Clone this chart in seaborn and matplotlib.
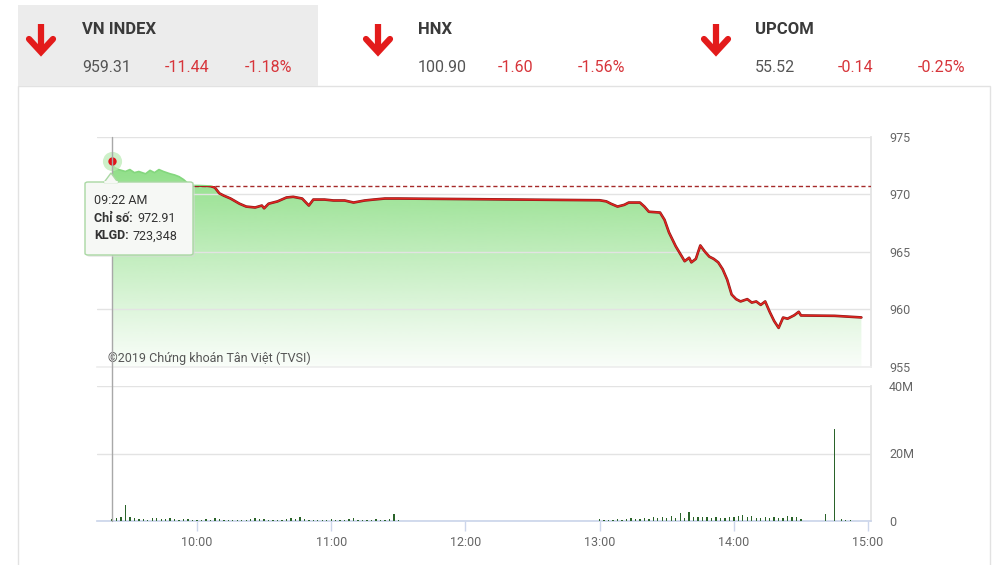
import numpy as np
import pandas as pd
import matplotlib
matplotlib.use("Agg")
import matplotlib.pyplot as plt
import seaborn as sns
import matplotlib.patheffects as pe
from matplotlib.patches import Rectangle, FancyBboxPatch, Polygon
from matplotlib.lines import Line2D
from matplotlib.transforms import blended_transform_factory

# ---------------- data ----------------
index_names = ["VN INDEX", "HNX", "UPCOM"]
index_values = ["959.31", "100.90", "55.52"]
index_changes = ["-11.44", "-1.60", "-0.14"]
index_pcts = ["-1.18%", "-1.56%", "-0.25%"]

reference_price = 970.75

price_times = ["09:22", "09:23", "09:25", "09:28", "09:30", "09:32", "09:34", "09:37", "09:39",
               "09:41", "09:43", "09:45", "09:48", "09:50", "09:52", "09:54", "09:57",
               "10:01", "10:06", "10:08", "10:10", "10:12", "10:15", "10:19", "10:22",
               "10:26", "10:29", "10:30", "10:32", "10:36", "10:40", "10:43", "10:47",
               "10:50", "10:52", "10:57", "11:01", "11:06", "11:10", "11:15", "11:19",
               "11:24", "11:30", "13:00", "13:03", "13:05", "13:08", "13:11", "13:13",
               "13:18", "13:20", "13:22", "13:27", "13:29", "13:31", "13:34", "13:38",
               "13:40", "13:41", "13:43", "13:45", "13:47", "13:49", "13:51", "13:53",
               "13:55", "13:57", "13:59", "14:01", "14:03", "14:06", "14:08", "14:10",
               "14:12", "14:14", "14:16", "14:18", "14:20", "14:22", "14:24", "14:27",
               "14:29", "14:30", "14:45", "14:57"]
price_values = [972.91, 972.35, 972.17, 972.00, 972.17, 971.90, 972.00, 971.80, 972.10,
                971.90, 972.17, 972.00, 971.80, 971.70, 971.55, 971.30, 970.78,
                970.78, 970.74, 970.60, 970.10, 969.90, 969.65, 969.20, 968.95,
                968.87, 969.04, 968.80, 969.20, 969.40, 969.74, 969.80, 969.65,
                969.04, 969.56, 969.56, 969.48, 969.48, 969.30, 969.48, 969.56,
                969.65, 969.65, 969.50, 969.40, 969.20, 968.95, 969.10, 969.30,
                969.30, 968.95, 968.50, 968.43, 967.80, 966.70, 965.50, 964.20,
                964.50, 964.10, 964.40, 965.57, 965.04, 964.60, 964.40, 964.10,
                963.50, 962.60, 961.30, 960.90, 960.70, 960.90, 960.60, 960.70,
                960.40, 960.70, 959.80, 959.00, 958.40, 959.30, 959.20, 959.50,
                959.80, 959.48, 959.45, 959.31]

# traded volume (millions of shares), one bar every 2 minutes
vol_morning_start = "09:22"
vol_morning = [0.72, 0.9, 1.2, 4.7, 1.1, 0.8, 0.5, 0.6, 0.4, 0.9, 1.0, 0.6, 0.5, 0.8, 0.7,
               0.4, 0.6, 0.5, 0.3, 0.4, 0.3, 0.5, 0.4, 0.9, 0.6, 0.4, 0.3, 0.4, 0.3, 0.4,
               0.3, 0.6, 0.8, 0.5, 0.7, 0.4, 0.3, 0.3, 0.4, 0.5, 0.8, 0.6, 1.1, 0.5, 0.4,
               0.3, 0.3, 0.4, 0.3, 0.5, 0.3, 0.4, 0.3, 0.5, 0.9, 0.4, 0.3, 0.4, 0.3, 0.5,
               0.3, 0.4, 0.5, 2.1, 0.4]
vol_afternoon_start = "13:00"
vol_afternoon = [0.5, 0.3, 0.4, 0.3, 0.5, 0.4, 0.6, 0.8, 0.5, 0.7, 0.9, 0.6, 1.3, 0.8, 1.1,
                 0.9, 1.4, 1.0, 2.3, 1.0, 2.8, 1.2, 1.1, 1.1, 1.3, 0.9, 1.2, 0.8, 0.9, 1.1,
                 1.3, 1.4, 1.8, 1.2, 1.5, 1.0, 0.9, 1.1, 0.8, 1.2, 0.9, 1.0, 1.4, 1.2, 1.3,
                 0.6]
vol_atc_times = ["14:41", "14:45", "14:48", "14:50", "14:52"]
vol_atc = [2.1, 27.2, 0.5, 0.4, 0.3]

hour_labels = ["10:00", "11:00", "12:00", "13:00", "14:00", "15:00"]
price_ticks = [955, 960, 965, 970, 975]
vol_ticks = [0, 20, 40]
vol_tick_labels = ["0", "20M", "40M"]

tooltip_time = "09:22 AM"
tooltip_index = "972.91"
tooltip_volume = "723,348"
watermark = "©2019 Chứng khoán Tân Việt (TVSI)"


def to_min(s):
    h, m = s.split(":")
    return int(h) * 60 + int(m)


df_p = pd.DataFrame({"t": [to_min(s) for s in price_times], "price": price_values})
t_m = to_min(vol_morning_start) + 2 * np.arange(len(vol_morning))
t_a = to_min(vol_afternoon_start) + 2 * np.arange(len(vol_afternoon))
df_v = pd.DataFrame({
    "t": np.concatenate([t_m, t_a, [to_min(s) for s in vol_atc_times]]),
    "vol": np.concatenate([vol_morning, vol_afternoon, vol_atc]),
})

# ---------------- figure ----------------
sns.set_theme(style="white")
FONT = ["Roboto", "DejaVu Sans"]
plt.rcParams["font.family"] = FONT

W, H = 1004, 565
fig = plt.figure(figsize=(W / 100, H / 100), dpi=100)
fig.patch.set_facecolor("white")


def fx(px):
    return px / W


def fy(py):
    return 1 - py / H


# container + header box (behind axes)
fig.add_artist(Rectangle((fx(18), fy(600)), fx(990) - fx(18), fy(86) - fy(600),
                         transform=fig.transFigure, facecolor="white", edgecolor="#e2e2e2",
                         lw=1, zorder=-10))
fig.add_artist(Rectangle((fx(18), fy(86)), fx(318) - fx(18), fy(5) - fy(86),
                         transform=fig.transFigure, facecolor="#ececec", edgecolor="none",
                         zorder=-9))

# header
name_x = [82, 418, 755]
val_x = [82, 418, 755]
chg_x = [165, 498, 838]
pct_x = [245, 578, 918]
arrow_x = [41, 378, 716]
for i in range(3):
    fig.text(fx(name_x[i]), fy(29), index_names[i], fontsize=12, fontweight="bold",
             color="#3a3a3a", va="center", ha="left")
    fig.text(fx(val_x[i]), fy(67), index_values[i], fontsize=11.5, color="#555555",
             va="center", ha="left")
    fig.text(fx(chg_x[i]), fy(67), index_changes[i], fontsize=11.5, color="#d7353b",
             va="center", ha="left")
    fig.text(fx(pct_x[i]), fy(67), index_pcts[i], fontsize=11.5, color="#d7353b",
             va="center", ha="left")
    ax0 = arrow_x[i]
    fig.add_artist(Line2D([fx(ax0), fx(ax0)], [fy(24), fy(50)], transform=fig.transFigure,
                          color="#e31b1b", lw=4.5, solid_capstyle="butt"))
    fig.add_artist(Line2D([fx(ax0 - 12), fx(ax0), fx(ax0 + 12)], [fy(39), fy(52), fy(39)],
                          transform=fig.transFigure, color="#e31b1b", lw=4.5,
                          solid_capstyle="round", solid_joinstyle="miter"))

XMIN, XMAX = 555.3, 901.3
ax_p = fig.add_axes([fx(97), fy(367), fx(871) - fx(97), fy(137) - fy(367)])
ax_v = fig.add_axes([fx(97), fy(521), fx(871) - fx(97), fy(386) - fy(521)])
for a in (ax_p, ax_v):
    a.set_facecolor("none")

# ---- price panel ----
poly = ax_p.fill_between(df_p["t"], df_p["price"], 955, color="none", lw=0)
n = 256
f = np.linspace(0, 1, n)
grad = np.zeros((n, 1, 4))
grad[:, 0, 0] = 105 / 255
grad[:, 0, 1] = 212 / 255
grad[:, 0, 2] = 95 / 255
grad[:, 0, 3] = 0.04 + 0.82 * f ** 1.1
im = ax_p.imshow(grad, extent=[XMIN, XMAX, 955, 975], origin="lower", aspect="auto",
                 zorder=1, interpolation="bilinear")
im.set_clip_path(poly.get_paths()[0], ax_p.transData)

sns.lineplot(data=df_p, x="t", y="price", ax=ax_p, color="#e3241f", lw=1.0, zorder=5)
red_line = ax_p.lines[-1]
red_line.set_path_effects([pe.Stroke(linewidth=1.9, foreground="#8a1c1c"), pe.Normal()])
red_line.set_clip_path(Rectangle((XMIN, 950), XMAX - XMIN, reference_price - 950,
                                 transform=ax_p.transData))
sns.lineplot(data=df_p, x="t", y="price", ax=ax_p, color="#84d77e", lw=1.2, zorder=5)
green_line = ax_p.lines[-1]
green_line.set_clip_path(Rectangle((XMIN, reference_price), XMAX - XMIN, 10,
                                   transform=ax_p.transData))

ax_p.axhline(reference_price, color="#a52a2a", lw=1, ls=(0, (3, 2)), zorder=4)

ax_p.set_xlim(XMIN, XMAX)
ax_p.set_ylim(955, 975)
ax_p.set_yticks(price_ticks)
ax_p.set_xticks([])
ax_p.yaxis.tick_right()
ax_p.tick_params(axis="y", length=0, pad=13, labelsize=9, labelcolor="#666666")
ax_p.grid(axis="y", color="#e3e3e3", lw=1)
ax_p.set_axisbelow("line")
ax_p.set_xlabel("")
ax_p.set_ylabel("")
for s in ("top", "left"):
    ax_p.spines[s].set_visible(False)
ax_p.spines["right"].set_color("#e3e3e3")
ax_p.spines["bottom"].set_color("#eeeeee")

ax_p.text(to_min("09:20"), 955.8, watermark, fontsize=9, color="#555555",
          ha="left", va="center", zorder=6)

# highlighted point
t0 = to_min("09:22")
ax_p.scatter([t0], [972.91], s=190, color="#b9eab2", alpha=0.7, zorder=6, lw=0)
ax_p.scatter([t0], [972.91], s=36, color="#e0141b", zorder=7, lw=0)

# ---- volume panel ----
ax_v.bar(df_v["t"], df_v["vol"], width=0.6, color="#2a632a", lw=0, zorder=3)
ax_v.set_xlim(XMIN, XMAX)
ax_v.set_ylim(0, 40)
ax_v.set_yticks(vol_ticks)
ax_v.set_yticklabels(vol_tick_labels)
ax_v.yaxis.tick_right()
ax_v.tick_params(axis="y", length=0, pad=13, labelsize=9, labelcolor="#666666")
ax_v.set_xticks([to_min(s) for s in hour_labels])
ax_v.set_xticklabels(hour_labels)
ax_v.tick_params(axis="x", length=7.5, width=1, color="#ccd6eb", labelsize=9,
                 labelcolor="#666666", pad=3, bottom=True)
ax_v.grid(axis="y", color="#e3e3e3", lw=1)
ax_v.set_axisbelow(True)
for s in ("top", "left"):
    ax_v.spines[s].set_visible(False)
ax_v.spines["right"].set_color("#e3e3e3")
ax_v.spines["bottom"].set_color("#ccd6eb")

# crosshair
tr = blended_transform_factory(ax_p.transData, fig.transFigure)
fig.add_artist(Line2D([t0, t0], [fy(137), fy(521)], transform=tr, color="#a8a8a8", lw=1,
                      zorder=2))

# tooltip
fig.add_artist(FancyBboxPatch((fx(87), fy(257)), fx(193) - fx(85), fy(182) - fy(255),
                              boxstyle="round,pad=0,rounding_size=0.003",
                              transform=fig.transFigure, facecolor="#d8d8d8",
                              edgecolor="none", alpha=0.5, zorder=8))
fig.add_artist(FancyBboxPatch((fx(85), fy(255)), fx(193) - fx(85), fy(182) - fy(255),
                              boxstyle="round,pad=0,rounding_size=0.003",
                              transform=fig.transFigure, facecolor="#f6f8f5",
                              edgecolor="#a9d8a3", lw=1, zorder=9))
fig.add_artist(Polygon([[fx(104), fy(182.5)], [fx(111), fy(173)], [fx(118), fy(182.5)]],
                       closed=True, transform=fig.transFigure, facecolor="#f6f8f5",
                       edgecolor="#a9d8a3", lw=1, zorder=9))
fig.add_artist(Line2D([fx(105), fx(117)], [fy(182), fy(182)], transform=fig.transFigure,
                      color="#f6f8f5", lw=1.5, zorder=10))
fig.text(fx(94), fy(200), tooltip_time, fontsize=9, color="#333333", va="center",
         ha="left", zorder=11)
fig.text(fx(94), fy(218), "Chỉ số:", fontsize=9, color="#333333", fontweight="bold",
         va="center", ha="left", zorder=11)
fig.text(fx(137), fy(218), tooltip_index, fontsize=9, color="#333333", va="center",
         ha="left", zorder=11)
fig.text(fx(94), fy(236), "KLGD:", fontsize=9, color="#333333", fontweight="bold",
         va="center", ha="left", zorder=11)
fig.text(fx(133), fy(236), tooltip_volume, fontsize=9, color="#333333", va="center",
         ha="left", zorder=11)

fig.savefig("out.png", dpi=100, facecolor="white")
